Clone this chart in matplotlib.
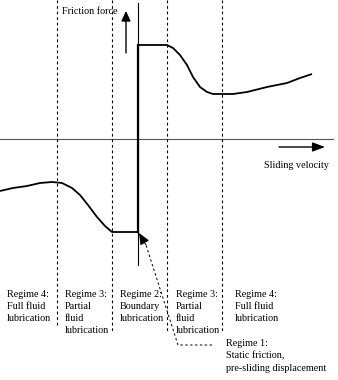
import matplotlib
matplotlib.use("Agg")
import matplotlib.pyplot as plt

# Friction force vs sliding velocity (Stribeck-type curve), arbitrary units
upper_v = [0, 29, 35, 42, 49, 55, 62, 69, 75, 84, 95, 109, 129, 149, 162, 174]
upper_f = [94, 94, 91, 84, 74, 62, 52, 47, 45, 45, 45, 47, 52, 56, 61, 65]

lower_v = [-138, -125, -111, -98, -86, -76, -66, -58, -50, -41, -33, -26, 0]
lower_f = [-52, -49, -47, -44, -43, -44, -49, -56, -66, -78, -87, -93, -93]

# Regime boundaries along the velocity axis
boundaries = [-81, -26, 29, 84]
boundary_bottom = [-188, -193, -194, -193]

regime_labels = [
    "Regime 4:\nFull fluid\nlubrication",
    "Regime 3:\nPartial\nfluid\nlubrication",
    "Regime 2:\nBoundary\nlubrication",
    "Regime 3:\nPartial\nfluid\nlubrication",
    "Regime 4:\nFull fluid\nlubrication",
]
regime_label_x = [-131, -73, -18, 38, 97]
static_label = "Regime 1:\nStatic friction,\npre-sliding displacement"

FONT = "Liberation Serif"
FS = 7.3

fig = plt.figure(figsize=(3.38, 3.8), dpi=100)
ax = fig.add_axes([0, 0, 1, 1])
ax.set_xlim(-138, 200)
ax.set_ylim(-241, 139)
ax.axis("off")

# axes
ax.plot([-138, 195], [0, 0], color="#555555", lw=0.8)
ax.plot([0, 0], [-126, 136], color="black", lw=0.8)

# regime boundaries
for x, yb in zip(boundaries, boundary_bottom):
    ax.plot([x, x], [139, yb], color="black", lw=0.8,
            linestyle=(0, (2.5, 2.5)))

# friction curve
ax.plot(upper_v, upper_f, color="black", lw=1.3, solid_capstyle="butt")
ax.plot(lower_v, lower_f, color="black", lw=1.3, solid_capstyle="butt")
ax.plot([0, 0], [lower_f[-1], upper_f[0]], color="black", lw=1.6)

# axis direction arrows
ax.annotate("", xy=(-12, 128), xytext=(-12, 86),
            arrowprops=dict(arrowstyle="-|>,head_width=0.28,head_length=0.6",
                            color="black", lw=1.0, shrinkA=0, shrinkB=0))
ax.annotate("", xy=(187, -8), xytext=(141, -8),
            arrowprops=dict(arrowstyle="-|>,head_width=0.28,head_length=0.75",
                            color="black", lw=1.0, shrinkA=0, shrinkB=0))
ax.text(-76, 128, "Friction force", family=FONT, fontsize=FS,
        ha="left", va="center")
ax.text(126, -27, "Sliding velocity", family=FONT, fontsize=FS,
        ha="left", va="center")

# pointer to the static friction point
ax.plot([74, 40, 8], [-206, -206, -106], color="black", lw=0.7,
        linestyle=(0, (2.5, 2.5)))
ax.annotate("", xy=(1, -94), xytext=(8, -106),
            arrowprops=dict(arrowstyle="-|>,head_width=0.3,head_length=0.7",
                            color="black", lw=0.7, shrinkA=0, shrinkB=0))

for x, s in zip(regime_label_x, regime_labels):
    ax.text(x, -151, s, family=FONT, fontsize=FS, ha="left", va="top",
            linespacing=1.45)
ax.text(88, -200, static_label, family=FONT, fontsize=FS, ha="left",
        va="top", linespacing=1.45)

fig.savefig("out.png", dpi=100)
